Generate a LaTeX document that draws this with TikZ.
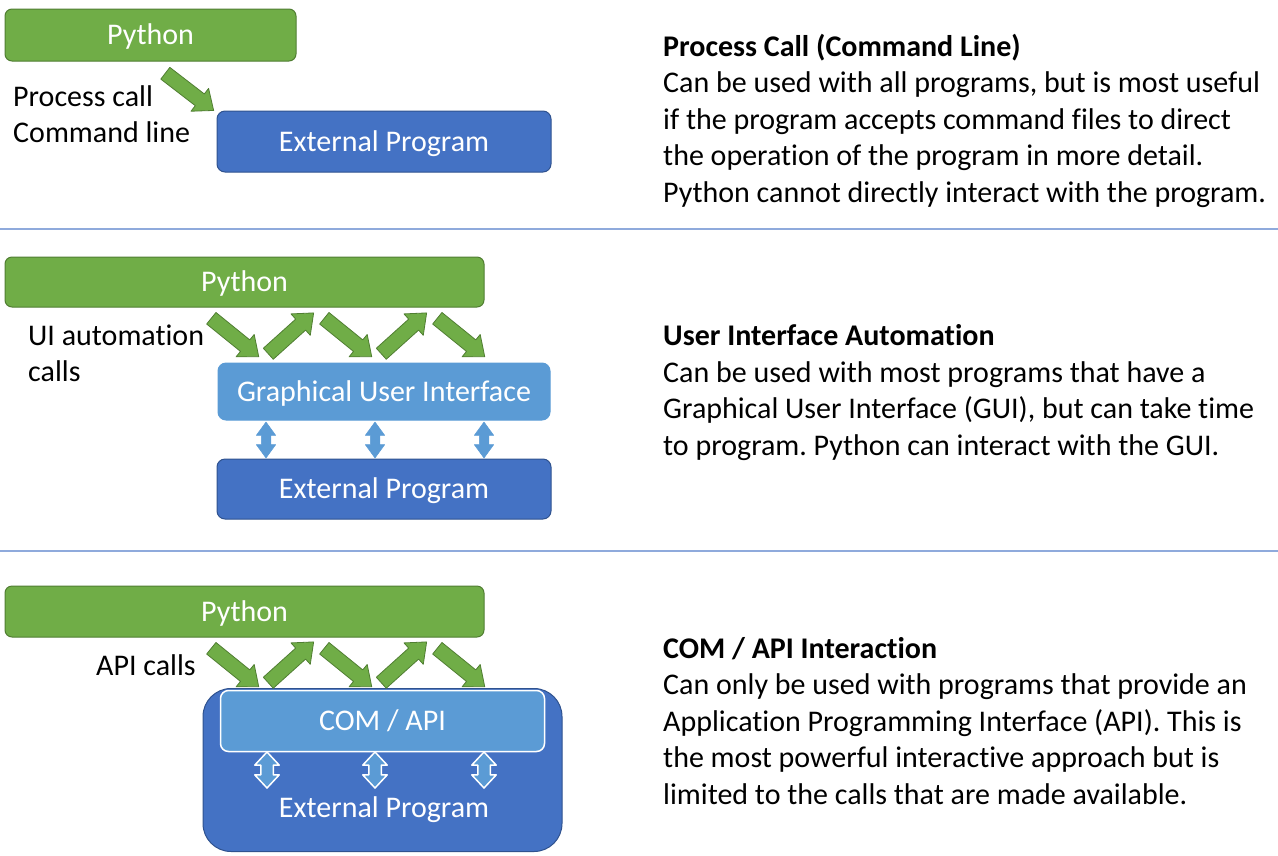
\documentclass[tikz,border=0pt]{standalone}
\usepackage{fontspec}
\setmainfont{Carlito}[RawFeature=-liga]
\usetikzlibrary{shapes.arrows}
\frenchspacing
\definecolor{pygreen}{HTML}{70AD47}
\definecolor{pygreenline}{HTML}{507E32}
\definecolor{progblue}{HTML}{4472C4}
\definecolor{progblueline}{HTML}{2F528F}
\definecolor{guiblue}{HTML}{5B9BD5}
\definecolor{sepblue}{HTML}{8FAADC}
\tikzset{
  boxtext/.style={text=white,font=\fontsize{30}{36}\selectfont,text height=19pt,text depth=0pt},
  pybox/.style={boxtext,fill=pygreen,draw=pygreenline,line width=1pt,rounded corners=7pt,inner sep=0pt},
  progbox/.style={boxtext,fill=progblue,draw=progblueline,line width=1pt,rounded corners=8pt,inner sep=0pt},
  guibox/.style={boxtext,fill=guiblue,draw=guiblue,line width=1pt,rounded corners=8pt,inner sep=0pt},
  callarrow/.style={single arrow,fill=pygreen,draw=pygreenline,line width=.8pt,inner xsep=0pt,inner ysep=7pt,
    minimum height=61pt,minimum width=28pt,single arrow head extend=7pt,single arrow tip angle=79},
  linkarrow/.style={double arrow,fill=guiblue,draw=guiblue,line width=.5pt,inner xsep=0pt,inner ysep=4.5pt,
    minimum height=36pt,minimum width=19pt,double arrow head extend=5pt,double arrow tip angle=72,rotate=90},
  apiarrow/.style={double arrow,fill=guiblue,draw=white,line width=1.5pt,inner xsep=0pt,inner ysep=5.5pt,
    minimum height=36pt,minimum width=23pt,double arrow head extend=6pt,double arrow tip angle=86,rotate=90},
  label/.style={font=\fontsize{30}{36}\selectfont,align=left,inner sep=0pt,anchor=base west},
  desc/.style={font=\fontsize{30}{36.5}\selectfont,align=left,inner sep=0pt,anchor=base west},
}
\begin{document}
\begin{tikzpicture}[x=1pt,y=1pt,line join=round]
\useasboundingbox (0,0) rectangle (1278,-855);
% process call
\node[pybox,minimum width=291pt,minimum height=52pt] (py1) at (150.5,-35) {Python};
\node[progbox,minimum width=334pt,minimum height=61pt] (ext1) at (384,-141.5) {External Program};
\node[callarrow,rotate=-37.6,anchor=tail] (pcarrow) at (165,-73) {};
\node[label] (pclabel) at (13,-142) {Process call\\Command line};
\node[desc] (pcdesc) at (663,-202) {\textbf{Process Call (Command Line)}\\
  Can be used with all programs, but is most useful\\
  if the program accepts command files to direct\\
  the operation of the program in more detail.\\
  Python cannot directly interact with the program.};
\draw[sepblue,line width=1.2pt] (0,-229) -- (1278,-229);
% ui automation
\node[pybox,minimum width=479pt,minimum height=50pt] (py2) at (244.5,-282) {Python};
\node[guibox,minimum width=332pt,minimum height=57pt] (gui) at (384,-391.5) {Graphical User Interface};
\node[progbox,minimum width=334pt,minimum height=60pt] (ext2) at (384,-489) {External Program};
\foreach \i in {0,1,2}
  \node[callarrow,rotate=-39,anchor=tail] (uidown\i) at (211+113*\i,-318) {};
\foreach \i in {0,1}
  \node[callarrow,rotate=42,anchor=tail] (uiup\i) at (268+113*\i,-354) {};
\foreach \x [count=\i] in {266,375,484}
  \node[linkarrow] (guilink\i) at (\x,-440) {};
\node[label] (uilabel) at (28,-381) {UI automation\\calls};
\node[desc] (uidesc) at (663,-455) {\textbf{User Interface Automation}\\
  Can be used with most programs that have a\\
  Graphical User Interface (GUI), but can take time\\
  to program. Python can interact with the GUI.};
\draw[sepblue,line width=1.2pt] (0,-551) -- (1278,-551);
% com / api
\node[pybox,minimum width=479pt,minimum height=51pt] (py3) at (244.5,-611.5) {Python};
\node[progbox,minimum width=359pt,minimum height=163pt,rounded corners=28pt] (ext3) at (382.5,-770) {};
\node[guibox,draw=white,line width=1.5pt,minimum width=324pt,minimum height=61pt] (com) at (382.5,-721) {COM / API};
\node[boxtext] (ext3text) at (384,-808) {External Program};
\foreach \i in {0,1,2}
  \node[callarrow,rotate=-39,anchor=tail] (apidown\i) at (211+113*\i,-648) {};
\foreach \i in {0,1}
  \node[callarrow,rotate=42,anchor=tail] (apiup\i) at (268+113*\i,-683) {};
\foreach \x [count=\i] in {267,375,484}
  \node[apiarrow] (apilink\i) at (\x,-770) {};
\node[label] (apilabel) at (96,-675) {API calls};
\node[desc] (apidesc) at (663,-804) {\textbf{COM / API Interaction}\\
  Can only be used with programs that provide an\\
  Application Programming Interface (API). This is\\
  the most powerful interactive approach but is\\
  limited to the calls that are made available.};
\end{tikzpicture}
\end{document}
